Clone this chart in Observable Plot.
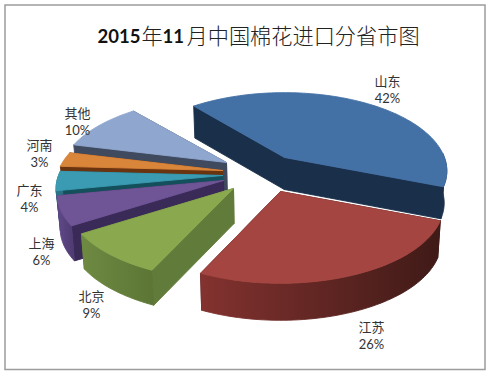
<!DOCTYPE html>
<html><head><meta charset="utf-8">
<style>html,body{margin:0;padding:0;background:#fff}svg{display:block}</style>
<script src="https://cdn.jsdelivr.net/npm/d3@7"></script>
<script src="https://cdn.jsdelivr.net/npm/@observablehq/plot@0.6"></script>
</head><body><div id="c"></div>
<script>
const provinces = ["山东","江苏","北京","上海","广东","河南","其他"];
const shares = [42,26,9,6,4,3,10];
// look of each wedge, kept apart from the data
const topColor  = ["#4371a6","#a54541","#8aa84e","#6f5596","#3a9bb2","#d9853a","#8fa6cf"];
const cutColor  = ["#1a2f4a","#3f1a17","#617c3a","#392a57","#14505c","#6b3410","#3f4a5f"];
const wallRight = ["#1a2f4a","#3f1a17","#5c7535","#4e3a70","#2a7385","#a8662c","#6b7ea0"];
const wallLeft  = ["#1a2f4a","#83322f","#6e8a42","#60498a","#2a7385","#a8662c","#6b7ea0"];
const centerX = [284,280,233,223,222,222,226];
const centerY = [157,191,188,180,175,170,162];
const widthScale = [0.975,0.98,1,1,1,1,1];
const depth   = [32,37,35,35,28,26,28];
const labelX  = [387,371,91,41,29,39,77];
const labelY  = [89,335,304,251,198,153,121];
const drawOrder = [6,5,4,3,2,0,1];
const titleParts = ["2015","年","11","月中国棉花进口分省市图"];
const titleX = [97,141,162,186];
const titleBold = [true,false,true,false];

const W=489,H=376,ML=4.5,MT=4.5,MR=4.5,MB=7;
const rad=d3.scaleLinear().domain([0,360]).range([0,2*Math.PI]);
const arcs=d3.pie().sort(null).startAngle(rad(320)).endAngle(rad(680))(shares);
const A=164,B=76,K=0.172;
const rim=(i,t)=>{const w=1+K*Math.cos(t);return [centerX[i]+widthScale[i]*A*Math.sin(t)/w, centerY[i]-B*Math.cos(t)/w];};
const down=(i,p)=>[p[0]+(270-p[0])*0.015,p[1]+depth[i]];
const rows=[];let id=0;
const poly=(pts,c)=>{id++;for(const p of [...pts,pts[0]])rows.push({id,x:p[0],y:p[1],c});};
for(const i of drawOrder){
  const a=arcs[i],N=Math.max(6,Math.round((a.endAngle-a.startAngle)/rad(1.5)));
  const ts=d3.range(N+1).map(k=>a.startAngle+(a.endAngle-a.startAngle)*k/N);
  const c=[centerX[i],centerY[i]];
  const s=rim(i,a.startAngle),e=rim(i,a.endAngle);
  poly([c,s,down(i,s),down(i,c)],cutColor[i]);
  poly([c,e,down(i,e),down(i,c)],cutColor[i]);
  const front=ts.filter(t=>Math.cos(t)<0.06); // the part of the rim that faces the viewer
  if(front.length>1){
    const upper=front.map(t=>rim(i,t));
    poly([...upper,...upper.map(p=>down(i,p)).reverse()],`url(#wall${i})`);
  }
  poly([c,...ts.map(t=>rim(i,t))],topColor[i]);
}
const gradients=()=>{
  const defs=d3.create("svg:defs");
  const g=defs.selectAll("linearGradient").data(provinces).join("linearGradient")
    .attr("id",(d,i)=>`wall${i}`);
  g.append("stop").attr("offset",0).attr("stop-color",(d,i)=>wallLeft[i]);
  g.append("stop").attr("offset",1).attr("stop-color",(d,i)=>wallRight[i]);
  return defs.node();
};
const labels=provinces.map((p,i)=>({t:p+"\n"+shares[i]+"%",x:labelX[i],y:labelY[i]}));
const titles=titleParts.map((t,i)=>({t,x:titleX[i],bold:titleBold[i]}));
const F="Lato,'Noto Sans CJK SC',sans-serif";
const chart=Plot.plot({
  width:W,height:H,marginLeft:ML,marginTop:MT,marginRight:MR,marginBottom:MB,
  style:{background:"#fff"},
  x:{domain:[ML,W-MR],axis:null},
  y:{domain:[H-MB,MT],axis:null},
  color:{type:"identity"},
  marks:[
    gradients,
    Plot.frame({stroke:"#9c9c9c",strokeWidth:1.5}),
    Plot.line(rows,{x:"x",y:"y",z:"id",fill:"c",stroke:"c",strokeWidth:0.9}),
    Plot.text(labels,{x:"x",y:"y",text:"t",fontSize:13,lineHeight:1.31,fontFamily:F,fill:"#333"}),
    Plot.text(titles.filter(d=>d.bold),{x:"x",y:()=>37,text:"t",fontSize:18.5,fontWeight:"bold",textAnchor:"start",fontFamily:F,fill:"#111"}),
    Plot.text(titles.filter(d=>!d.bold),{x:"x",y:()=>37,text:"t",fontSize:21.2,fontWeight:300,textAnchor:"start",fontFamily:"'Noto Sans CJK SC',sans-serif",fill:"#222"})
  ]
});
document.getElementById("c").appendChild(chart);
</script></body></html>
